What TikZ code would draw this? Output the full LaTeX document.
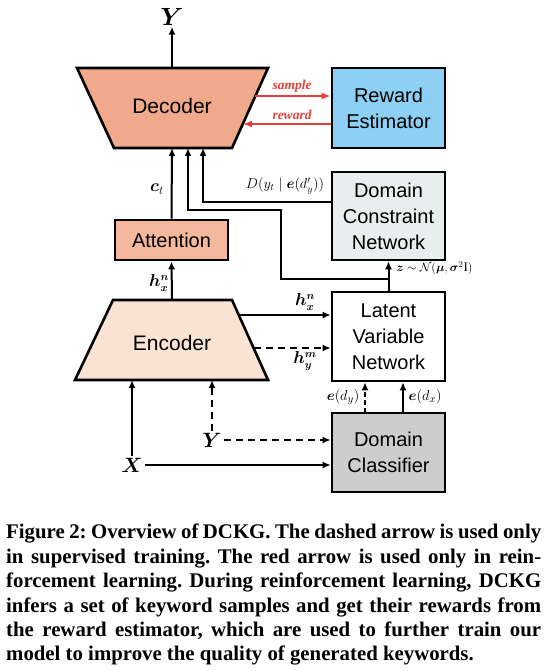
\documentclass[tikz,border=0pt]{standalone}
\usepackage{amsmath,bm}
\usepackage{fontspec}
\setmainfont{Liberation Serif}
\newfontfamily\hv{Liberation Sans}
\usetikzlibrary{arrows.meta}
\definecolor{decfill}{HTML}{F0A98A}
\definecolor{attfill}{HTML}{F3B89D}
\definecolor{encfill}{HTML}{FBE3D3}
\definecolor{refill}{HTML}{8DD0F3}
\definecolor{dcnfill}{HTML}{E6EFEE}
\definecolor{dcfill}{HTML}{CDCDCD}
\definecolor{redc}{HTML}{E6403B}
\frenchspacing
\begin{document}
\begin{tikzpicture}[x=1pt,y=-1pt,
  arr/.style={line width=2pt,-{Latex[length=8pt,width=7pt]}},
  darr/.style={arr,dash pattern=on 7pt off 5pt},
  rarr/.style={line width=2pt,draw=redc,-{Latex[length=9pt,width=7pt]}},
  box/.style={draw,line width=2.6pt,minimum width=113pt,align=center,
    font=\hv\fontsize{20}{26}\selectfont,inner sep=0pt},
  shapeline/.style={draw,line width=2.6pt,line join=miter},
  blab/.style={font=\hv\fontsize{21}{26}\selectfont,inner sep=0pt},
  lab/.style={font=\fontsize{16}{18}\selectfont,inner sep=0.5pt},
  slab/.style={font=\fontsize{14}{16}\selectfont,inner sep=0.5pt},
  rlab/.style={font=\bfseries\itshape\fontsize{13.5}{15}\selectfont,text=redc,inner sep=1pt}]
\useasboundingbox (0,0) rectangle (550,671);
\fill[white] (0,0) rectangle (550,671);
% decoder
\path[shapeline,fill=decfill] (77,68) -- (268,68) -- (232,148) -- (114,148) -- cycle;
\node[blab] (dec) at (172,106) {Decoder};
\coordinate (decT) at (172,68);
\coordinate (decB1) at (172,148);
\coordinate (decB2) at (188,148);
\coordinate (decB3) at (203,148);
\coordinate (decR1) at (255.4,96);
\coordinate (decR2) at (242.8,124);
% encoder
\path[shapeline,fill=encfill] (113,300) -- (232,300) -- (268,380) -- (75,380) -- cycle;
\node[blab] (enc) at (172,343) {Encoder};
\coordinate (encT) at (172,300);
\coordinate (encR1) at (238.7,315);
\coordinate (encR2) at (253.6,348);
\coordinate (encB1) at (132,380);
\coordinate (encB2) at (212,380);
% boxes
\node[box,fill=refill,minimum height=80pt] (re) at (388.5,108) {Reward\\Estimator};
\node[box,fill=dcnfill,minimum height=88pt] (dcn) at (388.5,216) {Domain\\Constraint\\Network};
\node[box,fill=white,minimum height=89pt] (lvn) at (388.5,336.5) {Latent\\Variable\\Network};
\node[box,fill=dcfill,minimum height=79pt] (dc) at (388.5,452.5) {Domain\\Classifier};
\node[box,fill=attfill,minimum height=40pt] (att) at (171.5,240) {Attention};
% outputs / inputs
\node[font=\fontsize{23}{25}\selectfont,inner sep=1pt] (Yout) at (172,17) {$\bm{Y}$};
\node[font=\fontsize{21}{24}\selectfont,inner sep=2pt] (X) at (132,465) {$\bm{X}$};
\node[font=\fontsize{21}{24}\selectfont,inner sep=2pt] (Yin) at (212,440) {$\bm{Y}$};
% arrows
\draw[arr] (decT) -- (Yout.south);
\draw[rarr] (decR1) -- (re.west |- decR1);
\draw[rarr] (re.west |- decR2) -- (decR2);
\node[rlab] (lsample) at (292,86) {sample};
\node[rlab] (lreward) at (292,115) {reward};
\draw[arr] (att.north) -- (decB1);
\coordinate (zs) at (388.5,279);
\draw[arr] (lvn.north) -- (zs) -| (281,210) -| (decB2);
\draw[arr] (zs) -- (dcn.south);
\draw[arr] (dcn.west |- 0,202) -| (decB3);
\draw[arr] (encT) -- (att.south);
\draw[arr] (encR1) -- (lvn.west |- encR1);
\draw[darr] (encR2) -- (lvn.west |- encR2);
\draw[arr] (X.north) -- (encB1);
\draw[arr] (X.east) -- (dc.west |- X);
\draw[darr] (Yin.north) -- (encB2);
\draw[darr] (Yin.east) -- (dc.west |- Yin);
\coordinate (dcT1) at (365,413);
\coordinate (dcT2) at (403,413);
\draw[darr,dash pattern=on 5pt off 3pt] (dcT1) -- (lvn.south -| dcT1);
\draw[arr] (dcT2) -- (lvn.south -| dcT2);
% labels
\node[lab,font=\fontsize{17}{19}\selectfont] (lct) at (157,189) {$\bm{c}_t$};
\node[lab] (lhx1) at (159,283) {$\bm{h}_{\bm{x}}^{\bm{n}}$};
\node[lab] (lhx2) at (305,302) {$\bm{h}_{\bm{x}}^{\bm{n}}$};
\node[lab] (lhy) at (305,361) {$\bm{h}_{\bm{y}}^{\bm{m}}$};
\node[slab] (lD) at (285,186) {$D(y_t \mid \bm{e}(d'_y))$};
\node[slab,anchor=west,font=\fontsize{13}{15}\selectfont] (lz) at (396,268) {$\bm{z}\sim\mathcal{N}(\bm{\mu},\bm{\sigma}^2\mathrm{I})$};
\node[lab,anchor=east,font=\fontsize{15}{17}\selectfont] (ldy) at (360,397) {$\bm{e}(d_y)$};
\node[lab,anchor=west,font=\fontsize{15}{17}\selectfont] (ldx) at (408,397) {$\bm{e}(d_x)$};
% caption
\node[anchor=north west,text width=535pt,align=justify,inner sep=0pt,
  font=\bfseries\fontsize{20.8}{24.4}\selectfont] (cap) at (6,524)
  {Figure 2: Overview of DCKG. The dashed arrow is used only\linebreak
   in supervised training. The red arrow is used only in rein-\linebreak
   forcement learning. During reinforcement learning, DCKG\linebreak
   infers a set of keyword samples and get their rewards from\linebreak
   the reward estimator, which are used to further train our\linebreak
   model to improve the quality of generated keywords.};
\end{tikzpicture}
\end{document}
